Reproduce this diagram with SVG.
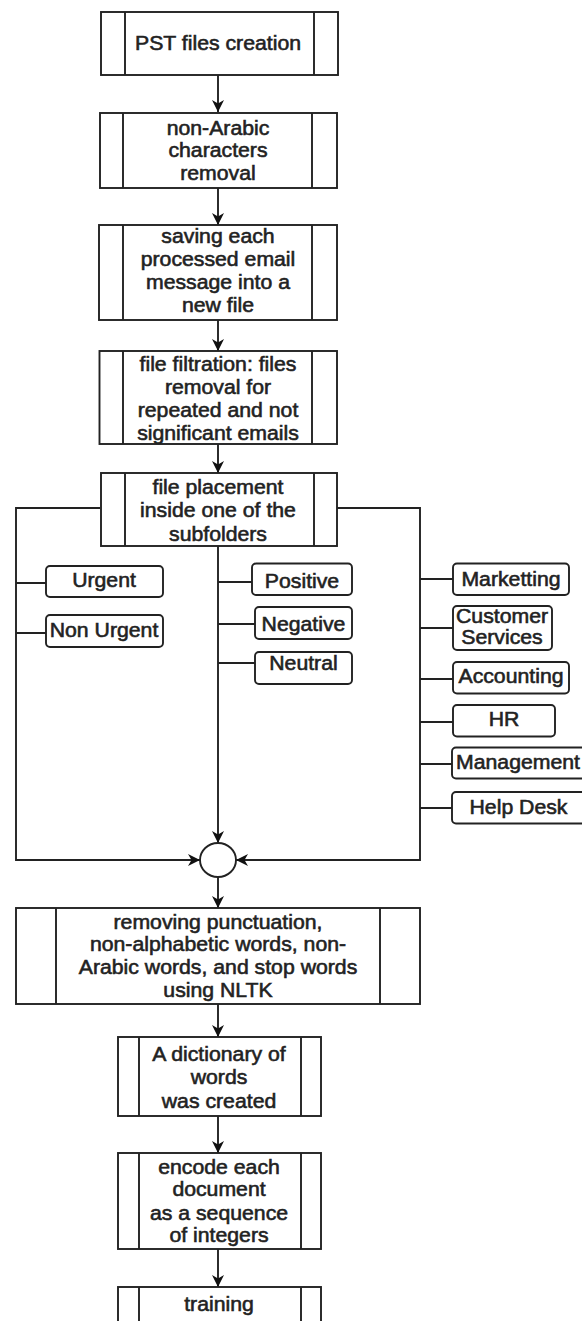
<svg xmlns="http://www.w3.org/2000/svg" width="582" height="1321" viewBox="0 0 582 1321">
<style>
.box{fill:#fff;stroke:#222;stroke-width:1.9}
.in{stroke:#222;stroke-width:1.9;fill:none}
.lbl{fill:#fff;stroke:#222;stroke-width:1.9}
.t{font-family:"Liberation Sans",Arial,sans-serif;font-size:19.5px;fill:#222;stroke:#222;stroke-width:0.55;text-anchor:middle}
.c{fill:none;stroke:#222;stroke-width:1.9}
</style>
<defs>
<marker id="ah" viewBox="0 0 12 12" markerWidth="12" markerHeight="12" refX="12" refY="6" orient="auto" markerUnits="userSpaceOnUse">
<path d="M0,0 L12,6 L0,12 L3.5,6 Z" fill="#111"/>
</marker>
</defs>
<g id="connectors">
<path class="c" d="M218,75 V112" marker-end="url(#ah)"/>
<path class="c" d="M218,188 V225" marker-end="url(#ah)"/>
<path class="c" d="M218,320 V351" marker-end="url(#ah)"/>
<path class="c" d="M218,444 V473" marker-end="url(#ah)"/>
<path class="c" d="M100,508 H16 V860 H200" marker-end="url(#ah)"/>
<path class="c" d="M337,508 H420 V860 H236" marker-end="url(#ah)"/>
<path class="c" d="M218,546 V843" marker-end="url(#ah)"/>
<path class="c" d="M16,583 H46 M16,633 H46"/>
<path class="c" d="M218,582 H252 M218,624 H255 M218,663 H255"/>
<path class="c" d="M420,579 H453 M420,628 H453 M420,679 H453 M420,722 H453 M420,764 H452 M420,808 H452"/>
<path class="c" d="M218,877 V908" marker-end="url(#ah)"/>
<path class="c" d="M218,1004 V1037" marker-end="url(#ah)"/>
<path class="c" d="M218,1116 V1153" marker-end="url(#ah)"/>
<path class="c" d="M218,1249 V1287" marker-end="url(#ah)"/>
</g>
<g id="n1">
<rect class="box" x="101" y="12" width="237" height="63"/>
<path class="in" d="M125,12 V75 M314,12 V75"/>
<text class="t" transform="translate(218 50) scale(1.09 1)">PST files creation</text>
</g>
<g id="n2">
<rect class="box" x="100" y="113" width="237" height="75"/>
<path class="in" d="M123,113 V188 M312,113 V188"/>
<text class="t" transform="translate(218 0) scale(1.09 1)"><tspan x="0" y="135">non-Arabic</tspan><tspan x="0" y="157.5">characters</tspan><tspan x="0" y="180">removal</tspan></text>
</g>
<g id="n3">
<rect class="box" x="99" y="225" width="238" height="95"/>
<path class="in" d="M123,225 V320 M312,225 V320"/>
<text class="t" transform="translate(218 0) scale(1.09 1)"><tspan x="0" y="243.5">saving each</tspan><tspan x="0" y="266.5">processed email</tspan><tspan x="0" y="289.5">message into a</tspan><tspan x="0" y="312.5">new file</tspan></text>
</g>
<g id="n4">
<rect class="box" x="99.5" y="351" width="237.5" height="93"/>
<path class="in" d="M123,351 V444 M312,351 V444"/>
<text class="t" transform="translate(218 0) scale(1.09 1)"><tspan x="0" y="371.5">file filtration: files</tspan><tspan x="0" y="394.3">removal for</tspan><tspan x="0" y="417.2">repeated and not</tspan><tspan x="0" y="440">significant emails</tspan></text>
</g>
<g id="n5">
<rect class="box" x="101" y="473" width="236" height="73"/>
<path class="in" d="M125,473 V546 M314,473 V546"/>
<text class="t" transform="translate(218 0) scale(1.09 1)"><tspan x="0" y="494">file placement</tspan><tspan x="0" y="517.5">inside one of the</tspan><tspan x="0" y="541">subfolders</tspan></text>
</g>
<g id="urgent">
<rect class="lbl" x="46" y="566" width="117" height="31" rx="4"/>
<text class="t" transform="translate(104 587) scale(1.09 1)">Urgent</text>
</g>
<g id="nonurgent">
<rect class="lbl" x="46" y="615" width="117" height="32" rx="4"/>
<text class="t" transform="translate(104 637) scale(1.09 1)">Non Urgent</text>
</g>
<g id="positive">
<rect class="lbl" x="252" y="563.5" width="100" height="31.5" rx="4"/>
<text class="t" transform="translate(302 588) scale(1.09 1)">Positive</text>
</g>
<g id="negative">
<rect class="lbl" x="255" y="607" width="97" height="32" rx="4"/>
<text class="t" transform="translate(303.5 630.5) scale(1.09 1)">Negative</text>
</g>
<g id="neutral">
<rect class="lbl" x="255" y="652" width="97" height="32" rx="4"/>
<text class="t" transform="translate(303.5 670) scale(1.09 1)">Neutral</text>
</g>
<g id="marketting">
<rect class="lbl" x="453" y="563.5" width="116" height="31.5" rx="4"/>
<text class="t" transform="translate(511 586) scale(1.09 1)">Marketting</text>
</g>
<g id="customer">
<rect class="lbl" x="453" y="606" width="99" height="44" rx="4"/>
<text class="t" transform="translate(502 0) scale(1.09 1)"><tspan x="0" y="623">Customer</tspan><tspan x="0" y="644">Services</tspan></text>
</g>
<g id="accounting">
<rect class="lbl" x="453" y="662" width="116" height="31.5" rx="4"/>
<text class="t" transform="translate(511 683) scale(1.09 1)">Accounting</text>
</g>
<g id="hr">
<rect class="lbl" x="453" y="705" width="102" height="31.5" rx="4"/>
<text class="t" transform="translate(504 726) scale(1.09 1)">HR</text>
</g>
<g id="management">
<rect class="lbl" x="452" y="747.5" width="140" height="31" rx="4"/>
<text class="t" transform="translate(518 768.5) scale(1.09 1)">Management</text>
</g>
<g id="helpdesk">
<rect class="lbl" x="452" y="792" width="140" height="31.5" rx="4"/>
<text class="t" transform="translate(518.5 813.5) scale(1.09 1)">Help Desk</text>
</g>
<g id="join">
<ellipse cx="218" cy="860" rx="18" ry="17" fill="#fff" stroke="#222" stroke-width="1.9"/>
</g>
<g id="n6">
<rect class="box" x="16" y="908" width="404" height="96"/>
<path class="in" d="M56,908 V1004 M380,908 V1004"/>
<text class="t" transform="translate(218 0) scale(1.09 1)"><tspan x="0" y="928.7">removing punctuation,</tspan><tspan x="0" y="951.3">non-alphabetic words, non-</tspan><tspan x="0" y="974.3">Arabic words, and stop words</tspan><tspan x="0" y="997">using NLTK</tspan></text>
</g>
<g id="n7">
<rect class="box" x="118" y="1037" width="203" height="79"/>
<path class="in" d="M139,1037 V1116 M301,1037 V1116"/>
<text class="t" transform="translate(219 0) scale(1.09 1)"><tspan x="0" y="1061.5">A dictionary of</tspan><tspan x="0" y="1084.5">words</tspan><tspan x="0" y="1108">was created</tspan></text>
</g>
<g id="n8">
<rect class="box" x="118" y="1153" width="203" height="96"/>
<path class="in" d="M139,1153 V1249 M301,1153 V1249"/>
<text class="t" transform="translate(219 0) scale(1.09 1)"><tspan x="0" y="1174">encode each</tspan><tspan x="0" y="1196.5">document</tspan><tspan x="0" y="1220">as a sequence</tspan><tspan x="0" y="1242.5">of integers</tspan></text>
</g>
<g id="n9">
<rect class="box" x="118" y="1287" width="203" height="60"/>
<path class="in" d="M139,1287 V1347 M301,1287 V1347"/>
<text class="t" transform="translate(219 1311) scale(1.09 1)">training</text>
</g>
</svg>
